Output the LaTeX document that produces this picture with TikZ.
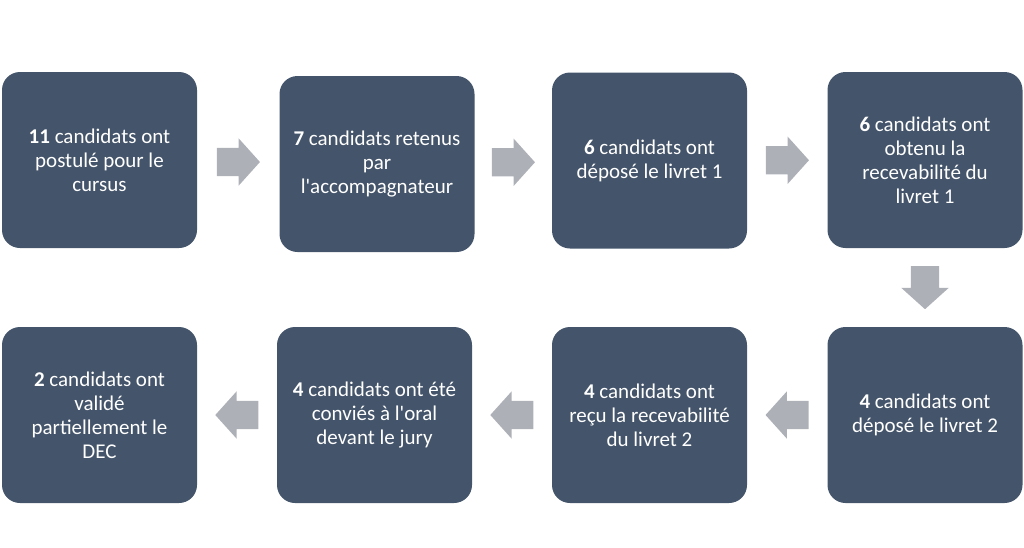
\documentclass[tikz,border=0pt]{standalone}
\usepackage{fontspec}
\setmainfont{Carlito}
\usetikzlibrary{shapes.arrows,calc}
\definecolor{boxblue}{HTML}{44546A}
\definecolor{arrowgray}{HTML}{ADB0B7}
\tikzset{
  stepbox/.style={rectangle,rounded corners=18pt,fill=boxblue,text=white,minimum width=195pt,minimum height=176pt,align=center,font=\fontsize{21}{24}\selectfont},
  flowarrow/.style={single arrow,anchor=tail,fill=arrowgray,draw=none,minimum height=43pt,inner xsep=0pt,inner ysep=14pt,text height=0pt,text depth=0pt,single arrow head extend=9.5pt,single arrow tip angle=96,single arrow head indent=0pt}
}
\begin{document}
\begin{tikzpicture}[x=1pt,y=-1pt]
\useasboundingbox (0,0) rectangle (1024,547);
% first row
\node[stepbox] (b1) at (99.5,160) {\textbf{11} candidats ont\\postulé pour le\\cursus};
\node[stepbox] (b2) at (377,164) {\textbf{7} candidats retenus\\par\\l\textquotesingle accompagnateur};
\node[stepbox] (b3) at (649.5,160.5) {\textbf{6} candidats ont\\déposé le livret 1};
\node[stepbox] (b4) at (925,160) {\textbf{6} candidats ont\\obtenu la\\recevabilité du\\livret 1};
% second row
\node[stepbox] (b8) at (925,415) {\textbf{4} candidats ont\\déposé le livret 2};
\node[stepbox] (b7) at (649.5,415) {\textbf{4} candidats ont\\reçu la recevabilité\\du livret 2};
\node[stepbox] (b6) at (374.5,415) {\textbf{4} candidats ont été\\conviés à l\textquotesingle oral\\devant le jury};
\node[stepbox] (b5) at (99.5,415) {\textbf{2} candidats ont\\validé\\partiellement le\\DEC};
% arrows
\node[flowarrow] (a12) at ($(b1.east)!0.5!(b2.west)+(-21.5,0)$) {};
\node[flowarrow] (a23) at ($(b2.east)!0.5!(b3.west)+(-21.5,0)$) {};
\node[flowarrow] (a34) at ($(b3.east)!0.5!(b4.west)+(-21.5,0)$) {};
\node[flowarrow,rotate=-90] (a48) at ($(b4.south)!0.5!(b8.north)+(0,-21.5)$) {};
\node[flowarrow,rotate=180] (a87) at ($(b8.west)!0.5!(b7.east)+(21.5,0)$) {};
\node[flowarrow,rotate=180] (a76) at ($(b7.west)!0.5!(b6.east)+(21.5,0)$) {};
\node[flowarrow,rotate=180] (a65) at ($(b6.west)!0.5!(b5.east)+(21.5,0)$) {};
\end{tikzpicture}
\end{document}
